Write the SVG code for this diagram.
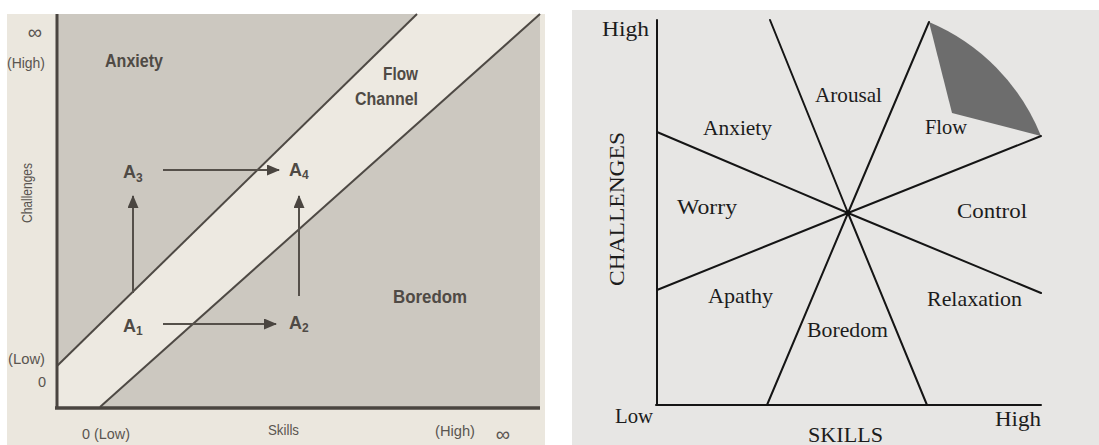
<svg xmlns="http://www.w3.org/2000/svg" width="1099" height="445" viewBox="0 0 1099 445">
  <defs>
    <style>
      .sans { font-family: "Liberation Sans", Arial, sans-serif; fill: #55504a; }
      .lbl { font-weight: bold; font-size: 19px; fill: #4f4a45; }
      .ax { font-size: 14.5px; fill: #5a5550; }
      .inf { font-size: 20px; }
      .node { font-weight: bold; font-size: 18px; fill: #4f4a45; }
      .sub { font-weight: bold; font-size: 12px; fill: #4f4a45; }
      .serif { font-family: "Liberation Serif", "Times New Roman", serif; font-size: 21px; fill: #1c1c1c; }
      .big { font-size: 22px; }
      .diag { stroke: #4e4944; stroke-width: 2; fill: none; }
      .arrow { stroke: #55504a; stroke-width: 2; fill: none; marker-end: url(#ah); }
      .rline { stroke: #151515; stroke-width: 2; fill: none; stroke-linecap: round; }
    </style>
    <marker id="ah" markerUnits="userSpaceOnUse" markerWidth="13" markerHeight="11" refX="12" refY="5.5" orient="auto">
      <path d="M0,0 L13,5.5 L0,11 z" fill="#4a4540"/>
    </marker>
  </defs>

  <rect x="0" y="0" width="1099" height="445" fill="#ffffff"/>

  <!-- LEFT PANEL -->
  <g id="left-panel">
    <rect x="7" y="14" width="538" height="431" fill="#ebe7de"/>
    <rect x="57" y="14" width="483" height="393" fill="#ccc8c0"/>
    <polygon points="57,366 417,14 540,14 100,407 57,407" fill="#ede9e1"/>
    <line class="diag" x1="57" y1="366" x2="417" y2="14"/>
    <line class="diag" x1="100" y1="407" x2="540" y2="14"/>
    <line x1="57" y1="14" x2="57" y2="409" stroke="#4a4540" stroke-width="3"/>
    <line x1="55" y1="408" x2="540" y2="408" stroke="#4a4540" stroke-width="3.5"/>
  </g>

  <g id="left-labels">
    <text class="sans ax inf" x="35" y="39" text-anchor="middle">∞</text>
    <text class="sans ax" x="7" y="68" textLength="38" lengthAdjust="spacingAndGlyphs">(High)</text>
    <text class="sans ax" x="8" y="364" textLength="37" lengthAdjust="spacingAndGlyphs">(Low)</text>
    <text class="sans ax" x="38" y="387">0</text>
    <text class="sans ax" transform="translate(32,193) rotate(-90)" text-anchor="middle" textLength="60" lengthAdjust="spacingAndGlyphs">Challenges</text>
    <text class="sans ax" x="82" y="439" textLength="48" lengthAdjust="spacingAndGlyphs">0 (Low)</text>
    <text class="sans ax" x="268" y="435" textLength="31" lengthAdjust="spacingAndGlyphs">Skills</text>
    <text class="sans ax" x="435" y="436" textLength="40" lengthAdjust="spacingAndGlyphs">(High)</text>
    <text class="sans ax inf" x="503" y="441" text-anchor="middle">∞</text>
  </g>

  <g id="region-anxiety">
    <text class="sans lbl" x="105" y="67" textLength="58" lengthAdjust="spacingAndGlyphs">Anxiety</text>
  </g>
  <g id="region-flow-channel">
    <text class="sans lbl" x="383" y="80" textLength="35" lengthAdjust="spacingAndGlyphs">Flow</text>
    <text class="sans lbl" x="355" y="105" textLength="63" lengthAdjust="spacingAndGlyphs">Channel</text>
  </g>
  <g id="region-boredom">
    <text class="sans lbl" x="393" y="303" textLength="74" lengthAdjust="spacingAndGlyphs">Boredom</text>
  </g>

  <g id="A1"><text class="sans node" x="123" y="332">A<tspan class="sub" dy="3">1</tspan></text></g>
  <g id="A2"><text class="sans node" x="289" y="329">A<tspan class="sub" dy="3">2</tspan></text></g>
  <g id="A3"><text class="sans node" x="123" y="178">A<tspan class="sub" dy="4">3</tspan></text></g>
  <g id="A4"><text class="sans node" x="289" y="176">A<tspan class="sub" dy="3">4</tspan></text></g>

  <g id="connectors-left">
    <line class="arrow" x1="163" y1="324" x2="276" y2="324"/>
    <line class="arrow" x1="163" y1="170" x2="279" y2="170"/>
    <line class="arrow" x1="133" y1="293" x2="133" y2="196"/>
    <line class="arrow" x1="299" y1="296" x2="299" y2="196"/>
  </g>

  <!-- RIGHT PANEL -->
  <g id="right-panel">
    <rect x="572" y="10" width="527" height="435" fill="#e7e6e4"/>
    <path id="flow-sector" d="M929,22 A207,207 0 0 1 1041,136 L952,113 Z" fill="#6d6d6d"/>
  </g>

  <g id="connectors-right">
    <line class="rline" x1="657" y1="20" x2="657" y2="405"/>
    <line class="rline" x1="656" y1="405" x2="1041" y2="405"/>
    <line class="rline" x1="848" y1="213" x2="657" y2="132"/>
    <line class="rline" x1="848" y1="213" x2="657" y2="290"/>
    <line class="rline" x1="848" y1="213" x2="767" y2="405"/>
    <line class="rline" x1="848" y1="213" x2="927" y2="405"/>
    <line class="rline" x1="848" y1="213" x2="1041" y2="293"/>
    <line class="rline" x1="848" y1="213" x2="1041" y2="136"/>
    <line class="rline" x1="848" y1="213" x2="929" y2="22"/>
    <line class="rline" x1="848" y1="213" x2="770" y2="20"/>
    <circle cx="848" cy="213" r="2.5" fill="#111"/>
  </g>

  <g id="right-labels">
    <text class="serif" x="602" y="36" textLength="47" lengthAdjust="spacingAndGlyphs">High</text>
    <text class="serif" x="615" y="423" textLength="38" lengthAdjust="spacingAndGlyphs">Low</text>
    <text class="serif" x="995" y="426" textLength="46" lengthAdjust="spacingAndGlyphs">High</text>
    <text class="serif big" x="808" y="442" textLength="75" lengthAdjust="spacingAndGlyphs">SKILLS</text>
    <text class="serif big" transform="translate(624,209) rotate(-90)" text-anchor="middle" textLength="154" lengthAdjust="spacingAndGlyphs">CHALLENGES</text>
  </g>
  <g id="state-arousal"><text class="serif" x="815" y="102" textLength="67" lengthAdjust="spacingAndGlyphs">Arousal</text></g>
  <g id="state-anxiety"><text class="serif" x="703" y="135" textLength="69" lengthAdjust="spacingAndGlyphs">Anxiety</text></g>
  <g id="state-flow"><text class="serif" x="925" y="134" textLength="42" lengthAdjust="spacingAndGlyphs">Flow</text></g>
  <g id="state-worry"><text class="serif" x="677" y="214" textLength="60" lengthAdjust="spacingAndGlyphs">Worry</text></g>
  <g id="state-control"><text class="serif" x="957" y="218" textLength="70" lengthAdjust="spacingAndGlyphs">Control</text></g>
  <g id="state-apathy"><text class="serif" x="708" y="303" textLength="65" lengthAdjust="spacingAndGlyphs">Apathy</text></g>
  <g id="state-relaxation"><text class="serif" x="927" y="306" textLength="95" lengthAdjust="spacingAndGlyphs">Relaxation</text></g>
  <g id="state-boredom"><text class="serif" x="807" y="337" textLength="81" lengthAdjust="spacingAndGlyphs">Boredom</text></g>
</svg>
